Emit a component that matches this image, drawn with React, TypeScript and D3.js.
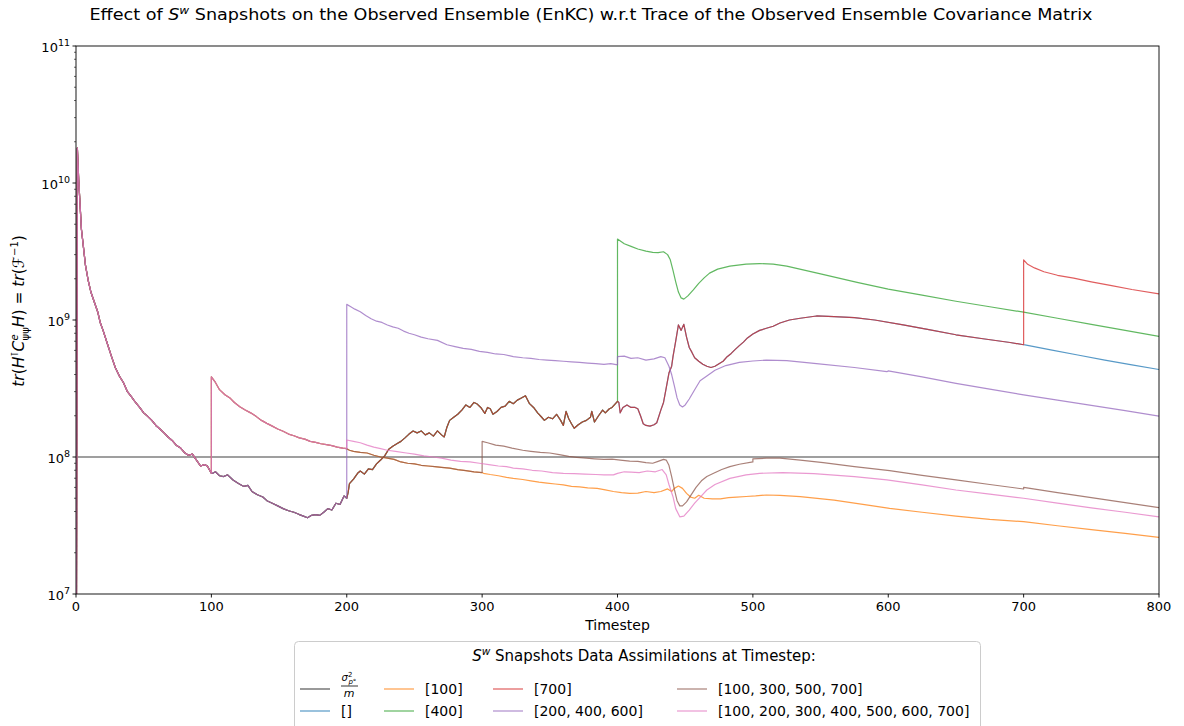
import React from "react";
import * as d3 from "d3";

type Pt = [number, number];

const W = 1184;
const H = 726;
const PLOT = { left: 76, right: 1159, top: 46, bottom: 594 };

const X_TICKS = [0, 100, 200, 300, 400, 500, 600, 700, 800];
const Y_DECADES = [7, 8, 9, 10, 11];
const SIGMA_LEVEL = 1e8;

// Shared trajectory before the first assimilation (value at t=0 is zero).
const BASE_0_100: Pt[] = [
  [0, 0], [1, 1.8e10], [2, 1.05e10], [4, 4.6e9], [5.5, 3.4e9], [7, 2.5e9], [9, 1.95e9],
  [11, 1.6e9], [13, 1.4e9], [16, 1.15e9], [18, 9.5e8], [20, 8.4e8], [23, 6.8e8],
  [26, 5.5e8], [29, 4.5e8], [32, 3.9e8], [35, 3.5e8], [38, 3.0e8], [41, 2.75e8],
  [44, 2.5e8], [47, 2.3e8], [50, 2.1e8], [53, 1.98e8], [56, 1.85e8], [59, 1.7e8],
  [62, 1.6e8], [65, 1.5e8], [68, 1.4e8], [71, 1.32e8], [74, 1.22e8], [77, 1.17e8],
  [80, 1.08e8], [83, 1.03e8], [86, 1.05e8], [89, 9.5e7], [92, 8.6e7], [95, 8.8e7],
  [97, 8.6e7], [100, 7.6e7],
];

// Free run (no assimilation) pieces.
const BASE_100_200: Pt[] = [
  [101, 7.6e7], [103, 7.8e7], [106, 7.3e7], [109, 7.2e7], [112, 7.4e7], [116, 6.8e7],
  [120, 6.4e7], [124, 6.1e7], [127, 6.2e7], [130, 5.6e7], [134, 5.3e7], [138, 5.1e7],
  [141, 4.8e7], [145, 4.6e7], [149, 4.4e7], [153, 4.2e7], [157, 4.05e7], [161, 3.95e7],
  [165, 3.8e7], [168, 3.7e7], [171, 3.6e7], [174, 3.75e7], [177, 3.8e7], [180, 3.75e7],
  [183, 3.95e7], [186, 4.2e7], [189, 4.1e7], [192, 4.6e7], [195, 4.5e7], [198, 5.2e7],
  [200, 5.0e7],
];

const BASE_200_400: Pt[] = [
  [201, 5.5e7], [202, 6.4e7], [205, 6.9e7], [208, 7.6e7], [210, 7.9e7], [213, 7.5e7],
  [216, 8.2e7], [219, 8.1e7], [222, 8.9e7], [225, 9.5e7], [228, 1.02e8], [231, 1.14e8],
  [234, 1.2e8], [237, 1.25e8], [240, 1.3e8], [243, 1.38e8], [246, 1.47e8], [249, 1.55e8],
  [252, 1.5e8], [255, 1.55e8], [258, 1.45e8], [261, 1.5e8], [264, 1.42e8], [267, 1.55e8],
  [270, 1.45e8], [272, 1.4e8], [274, 1.65e8], [276, 1.85e8], [279, 1.95e8], [282, 2.05e8],
  [285, 2.2e8], [288, 2.4e8], [291, 2.3e8], [294, 2.5e8], [296, 2.45e8], [299, 2.3e8],
  [302, 2.08e8], [304, 2.3e8], [306, 2.25e8], [308, 2.05e8], [311, 2.15e8], [314, 2.3e8],
  [317, 2.35e8], [320, 2.55e8], [323, 2.45e8], [326, 2.6e8], [329, 2.7e8], [332, 2.8e8],
  [335, 2.45e8], [338, 2.3e8], [341, 2.1e8], [344, 1.95e8], [346, 1.85e8], [349, 1.95e8],
  [352, 1.9e8], [355, 2.05e8], [358, 1.85e8], [360, 1.7e8], [362, 2.15e8], [364, 1.9e8],
  [366, 1.75e8], [368, 1.62e8], [371, 1.72e8], [374, 1.8e8], [377, 1.85e8], [380, 1.95e8],
  [381, 2.15e8], [383, 1.8e8], [386, 2.0e8], [389, 2.2e8], [391, 2.1e8], [394, 2.25e8],
  [396, 2.3e8], [400, 2.55e8],
];

const BASE_400_700: Pt[] = [
  [401, 2.5e8], [402, 2.1e8], [404, 2.3e8], [407, 2.4e8], [410, 2.3e8], [413, 2.3e8],
  [415, 2.25e8], [417, 2.0e8], [419, 1.75e8], [421, 1.7e8], [424, 1.68e8], [427, 1.72e8],
  [429, 1.78e8], [432, 2.2e8], [434, 2.5e8], [436, 3.2e8], [438, 4.1e8], [440, 4.6e8],
  [441, 5.4e8], [443, 7.0e8], [445, 9.2e8], [447, 8.4e8], [449, 9.3e8], [451, 7.5e8],
  [453, 6.3e8], [455, 5.8e8], [457, 5.3e8], [460, 5.0e8], [463, 4.75e8], [466, 4.6e8],
  [469, 4.5e8], [472, 4.6e8], [475, 4.8e8], [478, 5.0e8], [481, 5.4e8], [484, 5.7e8],
  [487, 6.1e8], [490, 6.5e8], [493, 6.9e8], [496, 7.4e8], [500, 7.9e8], [505, 8.4e8],
  [510, 8.7e8], [515, 9.0e8], [520, 9.5e8], [527, 1.0e9], [535, 1.03e9], [547, 1.07e9],
  [560, 1.06e9], [575, 1.04e9], [590, 1.0e9], [611, 9.2e8], [630, 8.5e8], [650, 7.8e8],
  [670, 7.3e8], [690, 6.85e8], [700, 6.6e8],
];

const BASE_700_800: Pt[] = [
  [701, 6.58e8], [720, 6.05e8], [740, 5.55e8], [760, 5.1e8], [780, 4.7e8], [800, 4.35e8],
];

// Pieces after each assimilation.
const RED_700: Pt[] = [
  [700, 2.75e9], [703, 2.55e9], [708, 2.4e9], [715, 2.25e9], [725, 2.12e9], [737, 2.02e9],
  [750, 1.9e9], [765, 1.78e9], [780, 1.67e9], [800, 1.55e9],
];

const GREEN_400: Pt[] = [
  [400, 3.9e9], [405, 3.6e9], [410, 3.45e9], [415, 3.3e9], [421, 3.18e9], [426, 3.12e9],
  [430, 3.1e9], [434, 3.15e9], [437, 3.0e9], [439, 2.75e9], [441, 2.3e9], [443, 1.9e9],
  [445, 1.6e9], [447, 1.45e9], [449, 1.42e9], [452, 1.5e9], [456, 1.66e9], [460, 1.85e9],
  [464, 2.03e9], [468, 2.2e9], [474, 2.35e9], [483, 2.47e9], [495, 2.56e9], [505, 2.58e9],
  [515, 2.56e9], [525, 2.47e9], [550, 2.17e9], [577, 1.88e9], [600, 1.68e9], [625, 1.52e9],
  [650, 1.37e9], [675, 1.25e9], [700, 1.14e9], [725, 1.03e9], [750, 9.3e8], [775, 8.4e8],
  [800, 7.6e8],
];

const PURPLE_200: Pt[] = [
  [200, 1.3e9], [203, 1.25e9], [206, 1.2e9], [210, 1.15e9], [214, 1.08e9], [218, 1.02e9],
  [222, 9.8e8], [226, 9.6e8], [230, 9.2e8], [234, 8.9e8], [238, 8.7e8], [242, 8.3e8],
  [246, 8.0e8], [250, 7.8e8], [255, 7.5e8], [260, 7.3e8], [267, 7.1e8], [274, 6.6e8],
  [280, 6.4e8], [286, 6.2e8], [292, 6.1e8], [298, 5.9e8], [304, 5.8e8], [310, 5.65e8],
  [316, 5.6e8], [323, 5.4e8], [330, 5.3e8], [336, 5.25e8], [342, 5.15e8], [348, 5.1e8],
  [354, 5.05e8], [360, 5.0e8], [366, 4.95e8], [372, 4.9e8], [378, 4.85e8], [384, 4.8e8],
  [390, 4.75e8], [395, 4.8e8], [400, 4.7e8], [400, 5.4e8], [405, 5.45e8], [410, 5.25e8],
  [415, 5.3e8], [421, 5.1e8], [427, 5.2e8], [432, 5.4e8], [435, 5.3e8], [438, 4.6e8],
  [440, 4.0e8], [442, 3.3e8], [444, 2.7e8], [446, 2.4e8], [448, 2.32e8], [450, 2.4e8],
  [453, 2.65e8], [457, 3.1e8], [461, 3.6e8], [466, 3.9e8], [472, 4.3e8], [480, 4.65e8],
  [490, 4.9e8], [500, 5.02e8], [510, 5.1e8], [525, 5.05e8], [547, 4.8e8], [575, 4.5e8],
  [599, 4.2e8], [600, 4.25e8], [625, 3.85e8], [650, 3.45e8], [675, 3.13e8], [700, 2.84e8],
  [725, 2.6e8], [750, 2.38e8], [775, 2.18e8], [800, 1.99e8],
];

const SHARED_100_200: Pt[] = [
  [100, 3.85e8], [103, 3.5e8], [106, 3.1e8], [110, 2.85e8], [114, 2.68e8], [117, 2.5e8],
  [121, 2.33e8], [125, 2.2e8], [129, 2.1e8], [133, 1.98e8], [137, 1.85e8], [141, 1.76e8],
  [145, 1.68e8], [149, 1.6e8], [153, 1.54e8], [157, 1.47e8], [161, 1.43e8], [165, 1.38e8],
  [169, 1.35e8], [173, 1.3e8], [177, 1.28e8], [181, 1.25e8], [185, 1.23e8], [189, 1.21e8],
  [193, 1.18e8], [197, 1.16e8], [200, 1.15e8],
];

const SHARED_200_300: Pt[] = [
  [202, 1.12e8], [205, 1.1e8], [210, 1.08e8], [215, 1.07e8], [220, 1.03e8], [225, 1.0e8],
  [230, 9.8e7], [235, 9.6e7], [240, 9.2e7], [245, 9.0e7], [250, 8.9e7], [255, 8.7e7],
  [260, 8.6e7], [265, 8.5e7], [270, 8.4e7], [276, 8.3e7], [282, 8.1e7], [288, 7.95e7],
  [294, 7.8e7], [300, 7.7e7],
];

const ORANGE_300: Pt[] = [
  [301, 7.6e7], [306, 7.45e7], [312, 7.3e7], [318, 7.1e7], [323, 6.98e7], [330, 6.85e7],
  [336, 6.7e7], [342, 6.55e7], [348, 6.45e7], [354, 6.35e7], [360, 6.25e7], [366, 6.1e7],
  [372, 6.05e7], [378, 5.95e7], [385, 5.9e7], [391, 5.75e7], [397, 5.6e7], [403, 5.5e7],
  [409, 5.43e7], [415, 5.45e7], [421, 5.6e7], [427, 5.5e7], [432, 5.6e7], [437, 5.85e7],
  [440, 5.6e7], [442, 5.9e7], [445, 6.14e7], [448, 5.9e7], [451, 5.43e7], [454, 5.1e7],
  [457, 5.0e7], [460, 5.25e7], [464, 5.0e7], [470, 4.95e7], [476, 4.95e7], [482, 5.05e7],
  [488, 5.1e7], [495, 5.15e7], [502, 5.2e7], [510, 5.28e7], [520, 5.25e7], [535, 5.13e7],
  [560, 4.85e7], [585, 4.45e7], [601, 4.22e7], [625, 3.95e7], [650, 3.7e7], [675, 3.5e7],
  [700, 3.37e7], [725, 3.15e7], [750, 2.95e7], [775, 2.77e7], [800, 2.59e7],
];

const BROWN_300: Pt[] = [
  [300, 1.3e8], [304, 1.27e8], [310, 1.22e8], [316, 1.2e8], [322, 1.16e8], [330, 1.12e8],
  [336, 1.1e8], [343, 1.08e8], [350, 1.07e8], [357, 1.04e8], [364, 1.01e8], [370, 9.95e7],
  [377, 9.8e7], [383, 9.7e7], [390, 9.6e7], [396, 9.65e7], [402, 9.5e7], [409, 9.33e7],
  [415, 9.3e7], [421, 9.1e7], [426, 9.0e7], [430, 9.3e7], [434, 9.6e7], [436, 9.5e7],
  [438, 8.7e7], [440, 7.2e7], [442, 5.8e7], [444, 4.8e7], [446, 4.4e7], [448, 4.4e7],
  [451, 4.7e7], [455, 5.4e7], [458, 6.0e7], [462, 6.7e7], [466, 7.2e7], [471, 7.6e7],
  [477, 8.1e7], [483, 8.5e7], [490, 8.85e7], [500, 9.2e7], [500, 9.7e7], [510, 9.8e7],
  [520, 9.8e7], [535, 9.5e7], [552, 9.1e7], [575, 8.5e7], [601, 7.95e7], [625, 7.35e7],
  [650, 6.8e7], [675, 6.3e7], [700, 5.84e7], [700, 6.0e7], [725, 5.5e7], [750, 5.05e7],
  [775, 4.65e7], [800, 4.27e7],
];

const PINK_200: Pt[] = [
  [200, 1.33e8], [205, 1.3e8], [210, 1.27e8], [215, 1.22e8], [220, 1.18e8], [225, 1.15e8],
  [230, 1.12e8], [236, 1.1e8], [244, 1.07e8], [250, 1.05e8], [257, 1.02e8], [264, 1.0e8],
  [270, 9.8e7], [277, 9.5e7], [284, 9.3e7], [291, 9.2e7], [298, 9.0e7], [305, 8.8e7],
  [312, 8.6e7], [318, 8.5e7], [323, 8.3e7], [330, 8.2e7], [337, 8.0e7], [344, 7.9e7],
  [352, 7.7e7], [360, 7.6e7], [368, 7.55e7], [376, 7.5e7], [384, 7.45e7], [390, 7.4e7],
  [397, 7.4e7], [400, 7.6e7], [405, 7.8e7], [410, 7.75e7], [416, 7.7e7], [422, 7.9e7],
  [428, 7.8e7], [433, 8.1e7], [436, 7.4e7], [438, 6.3e7], [441, 5.13e7], [443, 4.2e7],
  [446, 3.66e7], [449, 3.7e7], [453, 4.1e7], [457, 4.6e7], [462, 5.2e7], [466, 5.74e7],
  [472, 6.3e7], [483, 6.98e7], [495, 7.4e7], [505, 7.6e7], [522, 7.7e7], [545, 7.55e7],
  [575, 7.2e7], [599, 6.8e7], [625, 6.25e7], [650, 5.74e7], [675, 5.35e7], [700, 5.0e7],
  [725, 4.6e7], [750, 4.25e7], [775, 3.95e7], [800, 3.66e7],
];

const SERIES_LABELS = [
  "[]", "[100]", "[400]", "[700]", "[200, 400, 600]",
  "[100, 300, 500, 700]", "[100, 200, 300, 400, 500, 600, 700]",
];
const SERIES_COLORS = ["#1f77b4", "#ff7f0e", "#2ca02c", "#d62728", "#9467bd", "#8c564b", "#e377c2"];

const SERIES_POINTS: Pt[][] = [
  [...BASE_0_100, ...BASE_100_200, ...BASE_200_400, ...BASE_400_700, ...BASE_700_800],
  [...BASE_0_100, ...SHARED_100_200, ...SHARED_200_300, ...ORANGE_300],
  [...BASE_0_100, ...BASE_100_200, ...BASE_200_400, ...GREEN_400],
  [...BASE_0_100, ...BASE_100_200, ...BASE_200_400, ...BASE_400_700, ...RED_700],
  [...BASE_0_100, ...BASE_100_200, ...PURPLE_200],
  [...BASE_0_100, ...SHARED_100_200, ...SHARED_200_300, ...BROWN_300],
  [...BASE_0_100, ...SHARED_100_200, ...PINK_200],
];

const FONT = "'DejaVu Sans', sans-serif";

export default function App() {
  const x = d3.scaleLinear().domain([0, 800]).range([PLOT.left, PLOT.right]);
  const y = d3.scaleLog().domain([1e7, 1e11]).range([PLOT.bottom, PLOT.top]);
  // non-positive values are clipped to a tiny value, as a log axis does
  const line = d3
    .line<Pt>()
    .x((d) => x(d[0]))
    .y((d) => y(Math.max(d[1], 1e5)));

  const minorTicks: number[] = [];
  for (const e of Y_DECADES.slice(0, -1)) {
    for (let k = 2; k <= 9; k++) minorTicks.push(k * Math.pow(10, e));
  }

  const legendCols = [300, 384, 493, 677];
  const legendRows = [689, 711];
  const legendItems = [
    { label: null as string | null, color: "#000", opacity: 0.5, width: 1.6 },
    ...SERIES_LABELS.map((l, i) => ({ label: l, color: SERIES_COLORS[i], opacity: 0.75, width: 1.2 })),
  ];

  return (
    <svg
      width={W}
      height={H}
      style={{ position: "absolute", left: 0, top: 0, background: "#fff" }}
      fontFamily={FONT}
    >
      <defs>
        <clipPath id="plot-clip">
          <rect x={PLOT.left} y={PLOT.top} width={PLOT.right - PLOT.left} height={PLOT.bottom - PLOT.top} />
        </clipPath>
      </defs>

      {/* title */}
      <text x={591} y={20} textAnchor="middle" fontSize={16} fill="#000"
        textLength={1003} lengthAdjust="spacingAndGlyphs">
        Effect of <tspan fontStyle="italic">S</tspan>
        <tspan fontStyle="italic" fontSize={11} dy={-6}>w</tspan>
        <tspan dy={6}> Snapshots on the Observed Ensemble (EnKC) w.r.t Trace of the Observed Ensemble Covariance Matrix</tspan>
      </text>

      {/* lines */}
      <g clipPath="url(#plot-clip)">
        <line x1={PLOT.left} x2={PLOT.right} y1={y(SIGMA_LEVEL)} y2={y(SIGMA_LEVEL)}
          stroke="#000" strokeOpacity={0.5} strokeWidth={1.6} />
        {SERIES_POINTS.map((pts, i) => (
          <path key={i} d={line(pts) ?? ""} fill="none" stroke={SERIES_COLORS[i]}
            strokeOpacity={0.75} strokeWidth={1.2} strokeLinejoin="round" />
        ))}
      </g>

      {/* frame */}
      <rect x={PLOT.left} y={PLOT.top} width={PLOT.right - PLOT.left} height={PLOT.bottom - PLOT.top}
        fill="none" stroke="#000" strokeWidth={0.9} />

      {/* x axis */}
      {X_TICKS.map((t) => (
        <g key={t}>
          <line x1={x(t)} x2={x(t)} y1={PLOT.bottom} y2={PLOT.bottom + 3.5} stroke="#000" strokeWidth={0.9} />
          <text x={x(t)} y={PLOT.bottom + 17} textAnchor="middle" fontSize={13}>{t}</text>
        </g>
      ))}
      <text x={(PLOT.left + PLOT.right) / 2} y={630} textAnchor="middle" fontSize={14}>Timestep</text>

      {/* y axis */}
      {minorTicks.map((v) => (
        <line key={v} x1={PLOT.left - 2} x2={PLOT.left} y1={y(v)} y2={y(v)} stroke="#000" strokeWidth={0.6} />
      ))}
      {Y_DECADES.map((e) => (
        <g key={e}>
          <line x1={PLOT.left - 3.5} x2={PLOT.left} y1={y(Math.pow(10, e))} y2={y(Math.pow(10, e))} stroke="#000" strokeWidth={0.9} />
          <text x={PLOT.left - 6} y={y(Math.pow(10, e)) + 6} textAnchor="end" fontSize={13}>
            10<tspan fontSize={9.5} dy={-6}>{e}</tspan>
          </text>
        </g>
      ))}

      {/* y label */}
      <text transform="translate(24,311) rotate(-90)" textAnchor="middle" fontSize={15.5}>
        <tspan fontStyle="italic">tr</tspan>(<tspan fontStyle="italic">H</tspan>
        <tspan fontSize={10} dy={-6}>⊺</tspan>
        <tspan fontStyle="italic" dy={6}>C</tspan>
        <tspan fontStyle="italic" fontSize={10} dy={-6}>e</tspan>
        <tspan fontSize={10} dx={-6} dy={11}>ψψ</tspan>
        <tspan fontStyle="italic" dy={-5}>H</tspan>) = <tspan fontStyle="italic">tr</tspan>(<tspan fontStyle="italic">ℱ</tspan>
        <tspan fontSize={10} dy={-6}>−1</tspan>
        <tspan dy={6}>)</tspan>
      </text>

      {/* legend */}
      <rect x={294.5} y={641.5} width={686} height={100} rx={4} fill="#fff" fillOpacity={0.8} stroke="#ccc" strokeWidth={1} />
      <text x={644} y={661} textAnchor="middle" fontSize={15}>
        <tspan fontStyle="italic">S</tspan>
        <tspan fontStyle="italic" fontSize={10.5} dy={-6}>w</tspan>
        <tspan dy={6}> Snapshots Data Assimilations at Timestep:</tspan>
      </text>
      {legendItems.map((it, i) => {
        const cx = legendCols[Math.floor(i / 2)];
        const cy = legendRows[i % 2];
        return (
          <g key={i}>
            <line x1={cx} x2={cx + 30} y1={cy} y2={cy} stroke={it.color} strokeOpacity={it.opacity} strokeWidth={it.width} />
            {it.label !== null ? (
              <text x={cx + 41} y={cy + 5} fontSize={14}>{it.label}</text>
            ) : (
              <g>
                <text x={349} y={681} textAnchor="middle" fontSize={10} fontStyle="italic">
                  σ<tspan fontSize={7} dy={-4} fontStyle="normal">2</tspan>
                  <tspan fontSize={7} dx={-4} dy={7}>p°</tspan>
                </text>
                <line x1={341} x2={358} y1={686} y2={686} stroke="#000" strokeWidth={0.8} />
                <text x={349} y={697} textAnchor="middle" fontSize={11} fontStyle="italic">m</text>
              </g>
            )}
          </g>
        );
      })}
    </svg>
  );
}
